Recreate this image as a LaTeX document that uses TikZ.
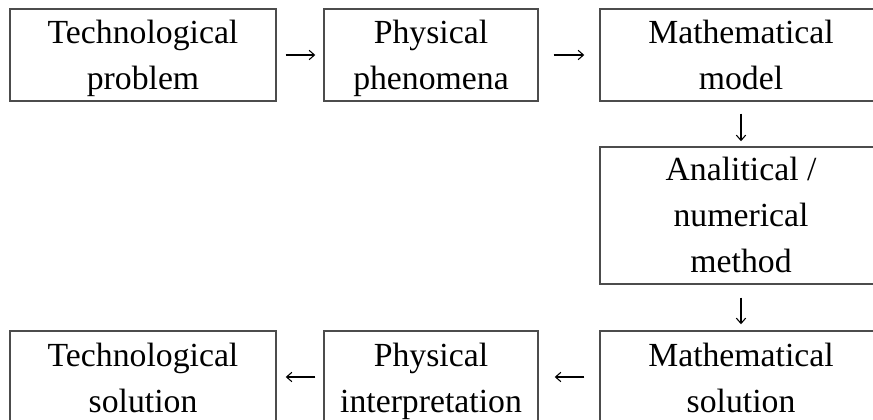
\documentclass[tikz,border=0pt]{standalone}
\usepackage{fontspec}
\setmainfont{Liberation Serif}
\usetikzlibrary{arrows.meta}
\tikzset{
  stage/.style={draw=black!70, line width=1.1pt, align=center, inner sep=0pt,
    minimum height=69pt, text height=58.5pt, text depth=6pt,
    font=\fontsize{25.3}{34.5}\selectfont},
  flow/.style={-{Straight Barb[length=4pt,width=7pt]}, line width=0.8pt},
}
\begin{document}
\begin{tikzpicture}[x=0.75pt,y=-0.75pt]
        \useasboundingbox (0,0) rectangle (873,420);
        % top row
        \node[stage, minimum width=199.5pt] (techprob) at (143,55) {Technological\\problem};
        \node[stage, minimum width=160.5pt] (physphen) at (431,55) {Physical\\phenomena};
        \node[stage, minimum width=211.5pt] (mathmod) at (741,55) {Mathematical\\model};
        % method
        \node[stage, minimum width=211.5pt, minimum height=102.75pt, text height=90.75pt] (method) at (741,215.5) {Analitical /\\numerical\\method};
        % bottom row
        \node[stage, minimum width=211.5pt] (mathsol) at (741,377) {Mathematical\\solution};
        \node[stage, minimum width=160.5pt] (physint) at (431,377) {Physical\\interpretation};
        \node[stage, minimum width=199.5pt] (techsol) at (143,377) {Technological\\solution};
        % arrows
        \draw[flow, shorten <=6.75pt, shorten >=6pt] (techprob) -- (physphen);
        \draw[flow, shorten <=11.25pt, shorten >=11.25pt] (physphen) -- (mathmod);
        \draw[flow, shorten <=9pt, shorten >=3.75pt] (mathmod) -- (method);
        \draw[flow, shorten <=9.75pt, shorten >=4.5pt] (method) -- (mathsol);
        \draw[flow, shorten <=11.25pt, shorten >=12pt] (mathsol) -- (physint);
        \draw[flow, shorten <=6pt, shorten >=6.75pt] (physint) -- (techsol);
\end{tikzpicture}
\end{document}
